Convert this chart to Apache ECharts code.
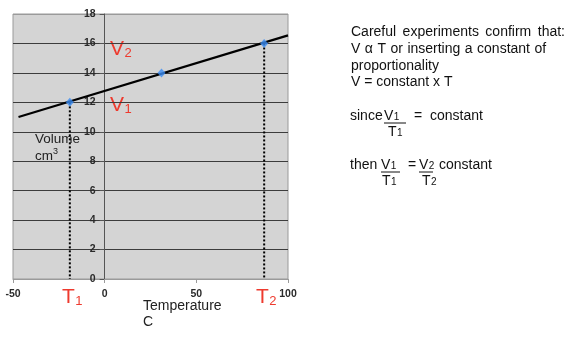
<!DOCTYPE html>
<html>
<head>
<meta charset="utf-8">
<script src="https://cdn.jsdelivr.net/npm/echarts@6/dist/echarts.min.js"></script>
<style>
  html, body { margin: 0; padding: 0; background: #fff; }
  #chart { width: 569px; height: 337px; }
</style>
</head>
<body>
<div id="chart"></div>
<script>
// Measured gas volumes at three temperatures
const temps = [-19, 31, 87];
const volumes = [12, 14, 16];
// Straight-line fit drawn across the plot
const fitTemps = [-47, 100];
const fitVolumes = [11, 16.55];
// Axis ranges
const xRange = { min: -50, max: 100, step: 50 };
const yRange = { min: 0, max: 18, step: 2 };

const FONT = '"Liberation Sans", Arial, Helvetica, sans-serif';
const RED = '#ee3a2e';
const INK = '#111';

const GRID = { left: 13, right: 281, top: 14, bottom: 58 };
const W = 569;
const plotWidth = W - GRID.left - GRID.right;
// vertical axis sits where temperature is zero
const yAxisShift = (0 - xRange.min) / (xRange.max - xRange.min) * plotWidth;

const chart = echarts.init(document.getElementById('chart'), null, { renderer: 'canvas' });

const measureCtx = document.createElement('canvas').getContext('2d');
function textWidth(str, size) {
  measureCtx.font = size + 'px ' + FONT;
  return measureCtx.measureText(str).width;
}

// text with a lowered, smaller suffix (subscript)
function subText(x, y, main, sub, size, subSize, color, drop) {
  const w = textWidth(main, size);
  return [
    { type: 'text', left: x, top: y, style: { text: main, font: size + 'px ' + FONT, fill: color } },
    { type: 'text', left: x + w + 0.5, top: y + drop, style: { text: sub, font: subSize + 'px ' + FONT, fill: color } }
  ];
}
function plain(x, y, str, size, color) {
  return { type: 'text', left: x, top: y, style: { text: str, font: size + 'px ' + FONT, fill: color || INK } };
}
// a line of words with a little extra space between them
function spaced(x, y, str, size, extra) {
  const out = [];
  let cx = x;
  str.split(' ').forEach(word => {
    out.push(plain(cx, y, word, size));
    cx += textWidth(word + ' ', size) + extra;
  });
  return out;
}
function bar(x1, x2, y) {
  return { type: 'line', shape: { x1: x1, y1: y, x2: x2, y2: y }, style: { stroke: INK, lineWidth: 1 } };
}

// split line colours: the outer lines blend with the frame
const nLines = (yRange.max - yRange.min) / yRange.step + 1;
const splitColors = [];
for (let i = 0; i < nLines; i++) splitColors.push(i === 0 || i === nLines - 1 ? '#9a9a9a' : '#3c3c3c');

const notes = [].concat(
  spaced(351, 25, 'Careful experiments confirm that:', 14, 2.6),
  spaced(351, 42, 'V \u03b1 T or inserting a constant of', 14, 0.6),
  [
    plain(351, 59, 'proportionality', 14),
    plain(351, 75, 'V = constant x T', 14),
    plain(350, 109, 'since', 14)
  ],
  subText(384, 109, 'V', '1', 14, 10, INK, 3),
  [bar(384, 406, 123), plain(414, 109, '=  constant', 14)],
  subText(388, 125, 'T', '1', 14, 10, INK, 3),
  [plain(350, 158, 'then', 14)],
  subText(381, 158, 'V', '1', 14, 10, INK, 3),
  [bar(381, 400, 172), plain(408, 158, '=', 14)],
  subText(419, 158, 'V', '2', 14, 10, INK, 3),
  [bar(419, 433, 172), plain(439, 158, 'constant', 14)],
  subText(382, 174, 'T', '1', 14, 10, INK, 3),
  subText(422, 174, 'T', '2', 14, 10, INK, 3),
  // chart annotations
  subText(110, 39, 'V', '2', 21, 13, RED, 8),
  subText(110, 95, 'V', '1', 21, 13, RED, 8),
  subText(62, 287, 'T', '1', 21, 13, RED, 8),
  subText(256, 287, 'T', '2', 21, 13, RED, 8),
  [
    plain(35, 132, 'Volume', 13.5, '#222'),
    plain(35, 149, 'cm', 13.5, '#222'),
    { type: 'text', left: 35 + textWidth('cm', 13.5), top: 147, style: { text: '3', font: '9px ' + FONT, fill: '#222' } },
    plain(143, 299, 'Temperature', 14, '#222'),
    plain(143, 315, 'C', 14, '#222')
  ]
);

const option = {
  animation: false,
  backgroundColor: '#fff',
  grid: {
    left: GRID.left, right: GRID.right, top: GRID.top, bottom: GRID.bottom,
    outerBoundsMode: 'none', containLabel: false,
    show: true, backgroundColor: '#d4d4d4', borderColor: '#9a9a9a', borderWidth: 1
  },
  xAxis: {
    type: 'value', min: xRange.min, max: xRange.max, interval: xRange.step,
    axisLine: { show: true, onZero: false, lineStyle: { color: '#9a9a9a', width: 1 } },
    axisTick: { show: true, length: 4, lineStyle: { color: '#9a9a9a' } },
    splitLine: { show: false },
    axisLabel: { margin: 10, fontSize: 10.5, color: '#2a2a2a', fontFamily: FONT, fontWeight: 'bold' }
  },
  yAxis: {
    type: 'value', min: yRange.min, max: yRange.max, interval: yRange.step,
    position: 'left', offset: -yAxisShift,
    axisLine: { show: true, onZero: false, lineStyle: { color: '#555', width: 1 } },
    axisTick: { show: true, length: 5, lineStyle: { color: '#555' } },
    splitLine: { show: true, lineStyle: { color: splitColors, width: 1 } },
    axisLabel: { margin: 9, fontSize: 10.5, color: '#2a2a2a', fontFamily: FONT, fontWeight: 'bold' }
  },
  series: [
    {
      type: 'line', name: 'fit',
      data: fitTemps.map((t, i) => [t, fitVolumes[i]]),
      showSymbol: false, symbol: 'none',
      lineStyle: { color: '#000', width: 2.2 }, z: 3
    },
    {
      type: 'line', name: 'drop1',
      data: [[temps[0], volumes[0]], [temps[0], 0]],
      symbol: 'none', lineStyle: { color: '#000', width: 2, type: [2, 2] }, z: 2
    },
    {
      type: 'line', name: 'drop2',
      data: [[temps[2], volumes[2]], [temps[2], 0]],
      symbol: 'none', lineStyle: { color: '#000', width: 2, type: [2, 2] }, z: 2
    },
    {
      type: 'scatter', name: 'measured',
      data: temps.map((t, i) => [t, volumes[i]]),
      symbol: 'diamond', symbolSize: [8, 9],
      itemStyle: { color: '#3b8cf2' }, z: 4
    }
  ],
  graphic: notes
};

chart.setOption(option);
</script>
</body>
</html>
